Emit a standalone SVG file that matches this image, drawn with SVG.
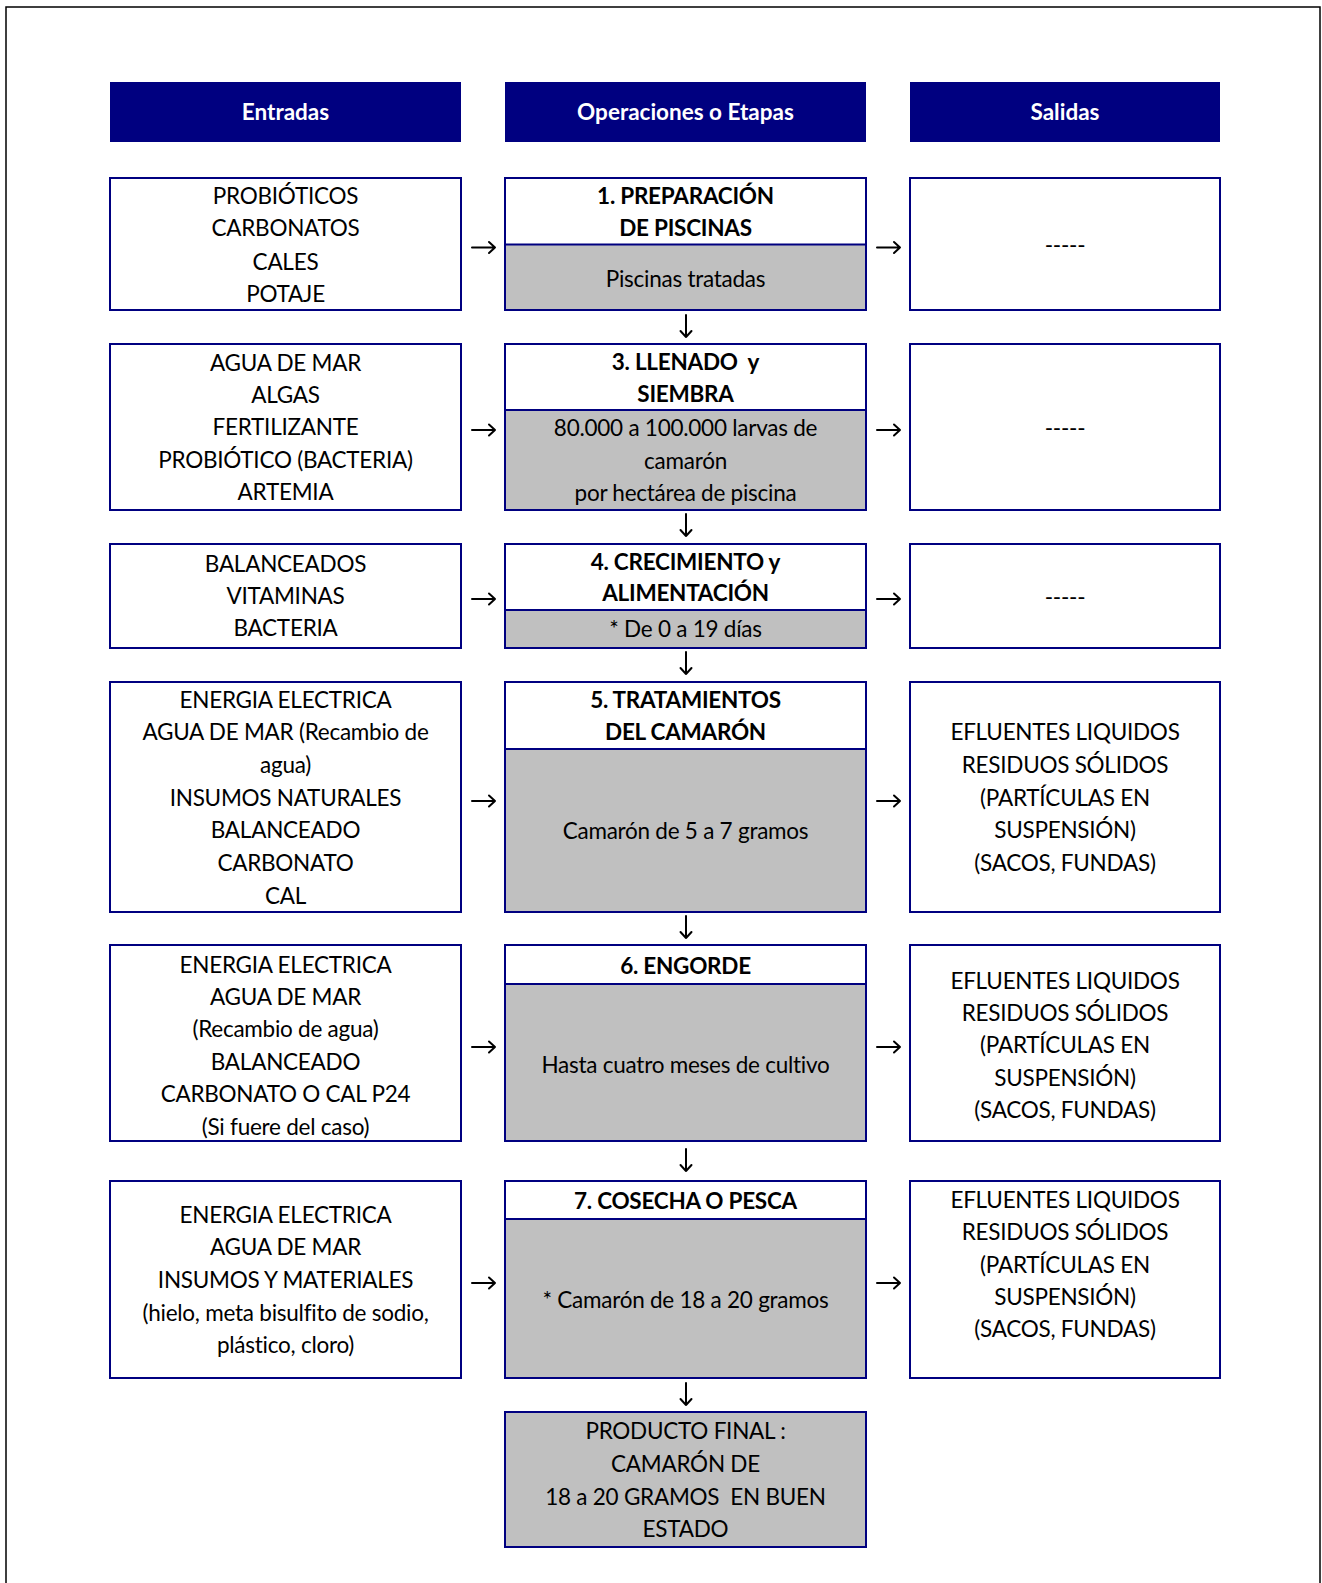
<svg xmlns="http://www.w3.org/2000/svg" width="1322" height="1583" viewBox="0 0 1322 1583">
<style>
.bx{fill:#ffffff;stroke:#000080;stroke-width:2}
.gr{fill:#c0c0c0;stroke:#000080;stroke-width:2}
.hd{fill:#000080}
text{font-family:Lato,"Liberation Sans",sans-serif;font-size:22.5px;letter-spacing:-0.25px;fill:#000000;text-anchor:middle}
.b{font-weight:bold}
.w{fill:#ffffff;font-weight:bold;letter-spacing:0}
.ar{fill:none;stroke:#000000;stroke-width:2;stroke-linecap:round;stroke-linejoin:round}
</style>
<rect x="0" y="0" width="1322" height="1583" fill="#ffffff"/>
<rect x="6" y="7" width="1314" height="1600" fill="none" stroke="#000000" stroke-width="1.5"/>

<g id="hdr-entradas"><rect class="hd" x="110" y="82" width="351" height="60"/><text class="w" x="285.5" y="120">Entradas</text></g>
<g id="hdr-operaciones"><rect class="hd" x="505" y="82" width="361" height="60"/><text class="w" x="685.5" y="120">Operaciones o Etapas</text></g>
<g id="hdr-salidas"><rect class="hd" x="910" y="82" width="310" height="60"/><text class="w" x="1065" y="120">Salidas</text></g>

<g id="in1"><rect class="bx" x="110" y="178" width="351" height="132"/>
<text x="285.5" y="204">PROBIÓTICOS</text><text x="285.5" y="236">CARBONATOS</text><text x="285.5" y="269.5">CALES</text><text x="285.5" y="302">POTAJE</text></g>
<g id="op1"><rect class="bx" x="505" y="178" width="361" height="132"/><rect class="gr" x="505" y="244.5" width="361" height="65.5"/>
<text class="b" x="685.5" y="204">1. PREPARACIÓN</text><text class="b" x="685.5" y="236">DE PISCINAS</text><text x="685.5" y="286.5">Piscinas tratadas</text></g>
<g id="out1"><rect class="bx" x="910" y="178" width="310" height="132"/><text x="1065" y="253">-----</text></g>

<g id="in2"><rect class="bx" x="110" y="344" width="351" height="166"/>
<text x="285.5" y="370.5">AGUA DE MAR</text><text x="285.5" y="403">ALGAS</text><text x="285.5" y="435">FERTILIZANTE</text><text x="285.5" y="467.5">PROBIÓTICO (BACTERIA)</text><text x="285.5" y="500">ARTEMIA</text></g>
<g id="op3"><rect class="bx" x="505" y="344" width="361" height="166"/><rect class="gr" x="505" y="410" width="361" height="100"/>
<text class="b" x="685.5" y="369.5" xml:space="preserve">3. LLENADO  y</text><text class="b" x="685.5" y="402">SIEMBRA</text><text x="685.5" y="436">80.000 a 100.000 larvas de</text><text x="685.5" y="468.5">camarón</text><text x="685.5" y="501">por hectárea de piscina</text></g>
<g id="out2"><rect class="bx" x="910" y="344" width="310" height="166"/><text x="1065" y="436">-----</text></g>

<g id="in3"><rect class="bx" x="110" y="544" width="351" height="104"/>
<text x="285.5" y="571.5">BALANCEADOS</text><text x="285.5" y="604">VITAMINAS</text><text x="285.5" y="636">BACTERIA</text></g>
<g id="op4"><rect class="bx" x="505" y="544" width="361" height="104"/><rect class="gr" x="505" y="610" width="361" height="38"/>
<text class="b" x="685.5" y="569.5">4. CRECIMIENTO y</text><text class="b" x="685.5" y="601">ALIMENTACIÓN</text><text x="685.5" y="637">* De 0 a 19 días</text></g>
<g id="out3"><rect class="bx" x="910" y="544" width="310" height="104"/><text x="1065" y="605">-----</text></g>

<g id="in4"><rect class="bx" x="110" y="682" width="351" height="230"/>
<text x="285.5" y="708">ENERGIA ELECTRICA</text><text x="285.5" y="740">AGUA DE MAR (Recambio de</text><text x="285.5" y="772.5">agua)</text><text x="285.5" y="806">INSUMOS NATURALES</text><text x="285.5" y="838">BALANCEADO</text><text x="285.5" y="870.5">CARBONATO</text><text x="285.5" y="904">CAL</text></g>
<g id="op5"><rect class="bx" x="505" y="682" width="361" height="230"/><rect class="gr" x="505" y="749" width="361" height="163"/>
<text class="b" x="685.5" y="708">5. TRATAMIENTOS</text><text class="b" x="685.5" y="740">DEL CAMARÓN</text><text x="685.5" y="839">Camarón de 5 a 7 gramos</text></g>
<g id="out4"><rect class="bx" x="910" y="682" width="310" height="230"/>
<text x="1065" y="740">EFLUENTES LIQUIDOS</text><text x="1065" y="772.5">RESIDUOS SÓLIDOS</text><text x="1065" y="806">(PARTÍCULAS EN</text><text x="1065" y="838">SUSPENSIÓN)</text><text x="1065" y="870.5">(SACOS, FUNDAS)</text></g>

<g id="in5"><rect class="bx" x="110" y="945" width="351" height="196"/>
<text x="285.5" y="972.5">ENERGIA ELECTRICA</text><text x="285.5" y="1005">AGUA DE MAR</text><text x="285.5" y="1037">(Recambio de agua)</text><text x="285.5" y="1069.5">BALANCEADO</text><text x="285.5" y="1102">CARBONATO O CAL P24</text><text x="285.5" y="1135">(Si fuere del caso)</text></g>
<g id="op6"><rect class="bx" x="505" y="945" width="361" height="196"/><rect class="gr" x="505" y="984" width="361" height="157"/>
<text class="b" x="685.5" y="973.5">6. ENGORDE</text><text x="685.5" y="1072.5">Hasta cuatro meses de cultivo</text></g>
<g id="out5"><rect class="bx" x="910" y="945" width="310" height="196"/>
<text x="1065" y="989">EFLUENTES LIQUIDOS</text><text x="1065" y="1021">RESIDUOS SÓLIDOS</text><text x="1065" y="1053">(PARTÍCULAS EN</text><text x="1065" y="1085.5">SUSPENSIÓN)</text><text x="1065" y="1118">(SACOS, FUNDAS)</text></g>

<g id="in6"><rect class="bx" x="110" y="1181" width="351" height="197"/>
<text x="285.5" y="1223">ENERGIA ELECTRICA</text><text x="285.5" y="1255">AGUA DE MAR</text><text x="285.5" y="1287.5">INSUMOS Y MATERIALES</text><text x="285.5" y="1321">(hielo, meta bisulfito de sodio,</text><text x="285.5" y="1353">plástico, cloro)</text></g>
<g id="op7"><rect class="bx" x="505" y="1181" width="361" height="197"/><rect class="gr" x="505" y="1219" width="361" height="159"/>
<text class="b" x="685.5" y="1209">7. COSECHA O PESCA</text><text x="685.5" y="1308">* Camarón de 18 a 20 gramos</text></g>
<g id="out6"><rect class="bx" x="910" y="1181" width="310" height="197"/>
<text x="1065" y="1208">EFLUENTES LIQUIDOS</text><text x="1065" y="1240">RESIDUOS SÓLIDOS</text><text x="1065" y="1272.5">(PARTÍCULAS EN</text><text x="1065" y="1305">SUSPENSIÓN)</text><text x="1065" y="1337">(SACOS, FUNDAS)</text></g>

<g id="final"><rect class="gr" x="505" y="1412" width="361" height="135"/>
<text x="685.5" y="1439">PRODUCTO FINAL :</text><text x="685.5" y="1471.5">CAMARÓN DE</text><text x="685.5" y="1505" xml:space="preserve">18 a 20 GRAMOS  EN BUEN</text><text x="685.5" y="1537">ESTADO</text></g>

<g id="connectors">
<path class="ar" d="M472 247.5H495M489 242L495 247.5L489 253"/>
<path class="ar" d="M877 247.5H900M894 242L900 247.5L894 253"/>
<path class="ar" d="M472 430H495M489 424.5L495 430L489 435.5"/>
<path class="ar" d="M877 430H900M894 424.5L900 430L894 435.5"/>
<path class="ar" d="M472 599H495M489 593.5L495 599L489 604.5"/>
<path class="ar" d="M877 599H900M894 593.5L900 599L894 604.5"/>
<path class="ar" d="M472 801H495M489 795.5L495 801L489 806.5"/>
<path class="ar" d="M877 801H900M894 795.5L900 801L894 806.5"/>
<path class="ar" d="M472 1047H495M489 1041.5L495 1047L489 1052.5"/>
<path class="ar" d="M877 1047H900M894 1041.5L900 1047L894 1052.5"/>
<path class="ar" d="M472 1283H495M489 1277.5L495 1283L489 1288.5"/>
<path class="ar" d="M877 1283H900M894 1277.5L900 1283L894 1288.5"/>
<path class="ar" d="M686 315V337M680.5 331L686 337L691.5 331"/>
<path class="ar" d="M686 514V536M680.5 530L686 536L691.5 530"/>
<path class="ar" d="M686 652V674M680.5 668L686 674L691.5 668"/>
<path class="ar" d="M686 916V938M680.5 932L686 938L691.5 932"/>
<path class="ar" d="M686 1149V1171M680.5 1165L686 1171L691.5 1165"/>
<path class="ar" d="M686 1383V1405M680.5 1399L686 1405L691.5 1399"/>
</g>
</svg>
